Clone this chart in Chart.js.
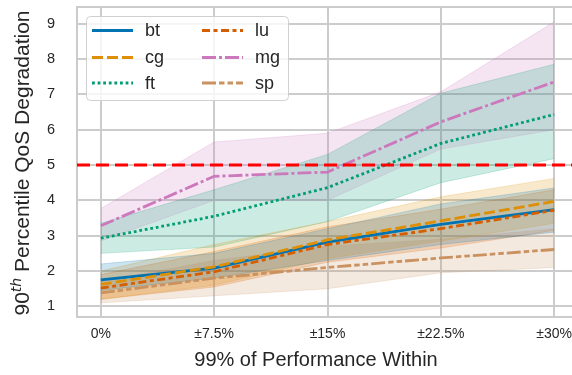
<!DOCTYPE html>
<html>
<head>
<meta charset="utf-8">
<script src="https://cdn.jsdelivr.net/npm/chart.js@4"></script>
<style>
  html, body { margin: 0; padding: 0; background: #fff; overflow: hidden; }
  #wrap { width: 578px; height: 375px; }
</style>
</head>
<body>
<div id="wrap"><canvas id="qos"></canvas></div>
<script>
// Données
const xLabels = ["0%", "±7.5%", "±15%", "±22.5%", "±30%"];
const yTicks = [1, 2, 3, 4, 5, 6, 7, 8, 9];
const names = ["bt", "cg", "ft", "lu", "mg", "sp"];

const bt = [1.75, 2.08, 2.82, 3.32, 3.74];
const btLo = [1.45, 1.8, 2.3, 2.75, 3.1];
const btHi = [2.2, 2.5, 3.2, 3.9, 4.35];

const cg = [1.62, 2.12, 2.88, 3.42, 3.97];
const cgLo = [1.2, 1.6, 2.35, 2.85, 3.35];
const cgHi = [2.0, 2.75, 3.4, 4.1, 4.62];

const ft = [2.93, 3.55, 4.36, 5.61, 6.43];
const ftLo = [2.5, 2.68, 3.4, 4.5, 5.18];
const ftHi = [3.35, 4.3, 5.3, 7.03, 7.85];

const lu = [1.52, 1.98, 2.75, 3.2, 3.72];
const luLo = [1.2, 1.55, 2.25, 2.65, 3.15];
const luHi = [1.9, 2.55, 3.25, 3.75, 4.3];

const mg = [3.28, 4.68, 4.8, 6.22, 7.35];
const mgLo = [2.85, 4.0, 4.0, 5.45, 6.0];
const mgHi = [3.77, 5.65, 5.9, 7.07, 9.05];

const sp = [1.38, 1.8, 2.1, 2.37, 2.61];
const spLo = [1.1, 1.3, 1.5, 1.95, 2.1];
const spHi = [1.7, 2.3, 2.7, 2.9, 3.2];

const threshold = 5;

const series = { bt, cg, ft, lu, mg, sp };
const lows = { bt: btLo, cg: cgLo, ft: ftLo, lu: luLo, mg: mgLo, sp: spLo };
const highs = { bt: btHi, cg: cgHi, ft: ftHi, lu: luHi, mg: mgHi, sp: spHi };

// Couleurs seaborn "colorblind" et tirets
const colors = { bt: "1,115,178", cg: "222,143,5", ft: "2,158,115", lu: "213,94,0", mg: "204,120,188", sp: "202,145,97" };
const dashes = {
  bt: [],
  cg: [11, 4],
  ft: [2.8, 2.8],
  lu: [8, 3.5, 4, 3.5],
  mg: [14, 3, 3, 3],
  sp: [14, 3, 5.5, 3, 5.5, 3],
};

const XMIN = -0.21, XMAX = 4.21;
const FONT = "'Liberation Sans', Arial, sans-serif";
const pts = (arr) => arr.map((v, i) => ({ x: i, y: v }));

const datasets = [];
// ligne rouge du seuil (dessinée au-dessus)
datasets.push({
  label: "seuil",
  data: [{ x: XMIN, y: threshold }, { x: XMAX, y: threshold }],
  borderColor: "#ff0000",
  borderWidth: 3,
  borderDash: [13, 6],
  pointRadius: 0,
  fill: false,
});
// lignes des séries (sp au-dessus)
[...names].reverse().forEach((n) => {
  datasets.push({
    label: n,
    data: pts(series[n]),
    borderColor: `rgb(${colors[n]})`,
    borderWidth: 2.8,
    borderDash: dashes[n],
    pointRadius: 0,
    fill: false,
    tension: 0,
  });
});
// bandes (bas puis haut rempli jusqu'au bas)
names.forEach((n) => {
  const loIdx = datasets.length;
  datasets.push({
    label: n + "-lo",
    data: pts(lows[n]),
    borderColor: `rgba(${colors[n]},0.25)`,
    borderWidth: 0.8,
    pointRadius: 0,
    fill: false,
  });
  datasets.push({
    label: n + "-hi",
    data: pts(highs[n]),
    borderColor: `rgba(${colors[n]},0.25)`,
    borderWidth: 0.8,
    pointRadius: 0,
    backgroundColor: `rgba(${colors[n]},0.2)`,
    fill: { target: loIdx },
  });
});

// cadre, titres et légende dessinés à la main
const decor = {
  id: "decor",
  beforeDatasetsDraw(chart) {
    const { ctx, chartArea: a } = chart;
    ctx.save();
    ctx.strokeStyle = "#cccccc";
    ctx.lineWidth = 2;
    ctx.beginPath();
    ctx.moveTo(a.left, a.top);
    ctx.lineTo(a.right, a.top);
    ctx.stroke();
    ctx.restore();
  },
  afterDraw(chart) {
    const { ctx } = chart;
    ctx.save();
    ctx.fillStyle = "#262626";
    // titre axe x
    ctx.font = `20px ${FONT}`;
    ctx.textAlign = "center";
    ctx.textBaseline = "alphabetic";
    ctx.fillText("99% of Performance Within", 316, 366);
    // titre axe y avec exposant
    ctx.translate(29, 163);
    ctx.rotate(-Math.PI / 2);
    const big = `21px ${FONT}`;
    const sup = "italic 14px 'DejaVu Sans', sans-serif";
    const rest = " Percentile QoS Degradation";
    ctx.font = big;
    const w1 = ctx.measureText("90").width;
    const w3 = ctx.measureText(rest).width;
    ctx.font = sup;
    const w2 = ctx.measureText("th").width;
    let x = -(w1 + w2 + w3) / 2;
    ctx.textAlign = "left";
    ctx.font = big;
    ctx.fillText("90", x, 0);
    x += w1;
    ctx.font = sup;
    ctx.fillText("th", x, -8);
    x += w2;
    ctx.font = big;
    ctx.fillText(rest, x, 0);
    ctx.restore();

    // légende
    ctx.save();
    ctx.fillStyle = "rgba(255,255,255,0.8)";
    ctx.strokeStyle = "#d0d0d0";
    ctx.lineWidth = 1;
    ctx.beginPath();
    ctx.roundRect(86.5, 16.5, 202, 84, 4);
    ctx.fill();
    ctx.stroke();
    const rows = [30.5, 57.5, 83];
    names.forEach((n, i) => {
      const col = Math.floor(i / 3);
      const y = rows[i % 3];
      const x0 = col === 0 ? 92 : 202;
      ctx.strokeStyle = `rgb(${colors[n]})`;
      ctx.lineWidth = 3;
      ctx.setLineDash(dashes[n]);
      ctx.beginPath();
      ctx.moveTo(x0, y);
      ctx.lineTo(x0 + 41, y);
      ctx.stroke();
      ctx.setLineDash([]);
      ctx.fillStyle = "#262626";
      ctx.font = `18px ${FONT}`;
      ctx.textAlign = "left";
      ctx.textBaseline = "middle";
      ctx.fillText(n, x0 + 53, y + 1);
    });
    ctx.restore();
  },
};

new Chart(document.getElementById("qos"), {
  type: "line",
  data: { datasets },
  plugins: [decor],
  options: {
    responsive: true,
    maintainAspectRatio: false,
    animation: false,
    layout: { padding: { top: 7, right: 0, left: 0, bottom: 0 } },
    plugins: {
      legend: { display: false },
      tooltip: { enabled: false },
      filler: { drawTime: "beforeDatasetsDraw" },
    },
    scales: {
      x: {
        type: "linear",
        min: XMIN,
        max: XMAX,
        afterBuildTicks: (axis) => { axis.ticks = xLabels.map((_, i) => ({ value: i })); },
        afterFit: (axis) => {
          axis.height = 58;
          axis.paddingLeft = 0;
          axis.paddingRight = 0;
        },
        ticks: {
          callback: (v) => xLabels[v],
          font: { family: FONT, size: 14 },
          color: "#262626",
          padding: 9,
          maxRotation: 0,
        },
        grid: { color: "#cccccc", lineWidth: 2, drawTicks: false },
        border: { color: "#cccccc", width: 2 },
      },
      y: {
        min: 0.7,
        max: 9.47,
        afterBuildTicks: (axis) => { axis.ticks = yTicks.map((v) => ({ value: v })); },
        afterFit: (axis) => {
          axis.width = 77;
          axis.paddingTop = 0;
          axis.paddingBottom = 0;
        },
        ticks: {
          font: { family: FONT, size: 14.5 },
          color: "#262626",
          padding: 22,
        },
        grid: { color: "#cccccc", lineWidth: 2, drawTicks: false },
        border: { color: "#cccccc", width: 2 },
      },
    },
  },
});
</script>
</body>
</html>
